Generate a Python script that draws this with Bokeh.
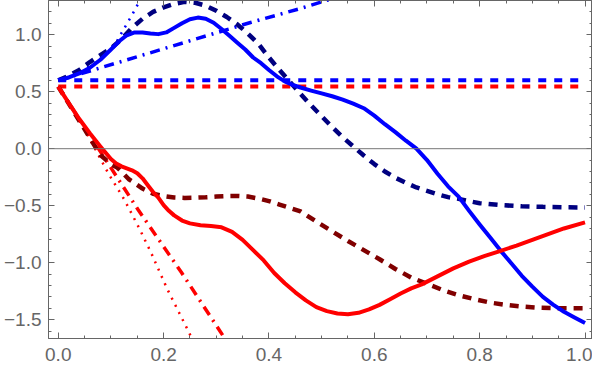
from bokeh.plotting import figure
from bokeh.models import Range1d, LinearAxis, SingleIntervalTicker, Span, CustomJSTickFormatter
from bokeh.embed import file_html
from bokeh.resources import INLINE

# ---- data ----
blue_x = [0, 0.02, 0.04, 0.06, 0.08, 0.10, 0.115, 0.13, 0.145, 0.16, 0.175, 0.19, 0.205, 0.22,
          0.235, 0.25, 0.265, 0.28, 0.295, 0.31, 0.325, 0.34, 0.355, 0.37, 0.385, 0.40, 0.415,
          0.43, 0.445, 0.46, 0.48, 0.50, 0.52, 0.54, 0.56, 0.58, 0.60, 0.62, 0.64, 0.66, 0.68,
          0.70, 0.72, 0.74, 0.76, 0.78, 0.80, 0.82, 0.84, 0.86, 0.88, 0.90, 0.92, 0.94, 0.96,
          0.98, 1.0]
blue_y = [0.60, 0.625, 0.66, 0.71, 0.78, 0.87, 0.94, 0.995, 1.02, 1.02, 1.01, 1.005, 1.02, 1.06,
          1.10, 1.135, 1.15, 1.14, 1.105, 1.05, 0.99, 0.93, 0.87, 0.80, 0.75, 0.69, 0.635,
          0.59, 0.56, 0.537, 0.51, 0.485, 0.46, 0.43, 0.395, 0.355, 0.29, 0.215, 0.145, 0.07, 0.0,
          -0.10, -0.22, -0.33, -0.42, -0.545, -0.665, -0.78, -0.896, -1.005, -1.115, -1.21, -1.30,
          -1.37, -1.43, -1.48, -1.53]

navy_x = [0, 0.02, 0.04, 0.06, 0.08, 0.10, 0.12, 0.14, 0.16, 0.18, 0.20, 0.22, 0.24, 0.26, 0.28,
          0.30, 0.32, 0.34, 0.36, 0.38, 0.40, 0.42, 0.44, 0.46, 0.48, 0.50, 0.52, 0.54, 0.56,
          0.58, 0.60, 0.62, 0.64, 0.66, 0.68, 0.70, 0.72, 0.74, 0.76, 0.78, 0.80, 0.84, 0.88,
          0.92, 0.96, 1.0]
navy_y = [0.60, 0.64, 0.69, 0.76, 0.82, 0.88, 0.96, 1.06, 1.14, 1.20, 1.24, 1.27, 1.288, 1.28,
          1.255, 1.21, 1.155, 1.09, 1.01, 0.92, 0.80, 0.69, 0.585, 0.48, 0.38, 0.285, 0.19, 0.10,
          0.02, -0.06, -0.135, -0.20, -0.255, -0.30, -0.34, -0.37, -0.40, -0.425, -0.44, -0.46,
          -0.478, -0.495, -0.505, -0.51, -0.514, -0.516]

red_x = [0, 0.02, 0.04, 0.06, 0.08, 0.09, 0.10, 0.11, 0.12, 0.13, 0.14, 0.15, 0.16, 0.17, 0.18,
         0.19, 0.20, 0.21, 0.22, 0.235, 0.25, 0.27, 0.29, 0.31, 0.33, 0.35, 0.37, 0.39, 0.41,
         0.43, 0.45, 0.47, 0.49, 0.51, 0.53, 0.55, 0.57, 0.59, 0.61, 0.63, 0.65, 0.67, 0.69,
         0.72, 0.75, 0.78, 0.81, 0.84, 0.87, 0.90, 0.93, 0.96, 1.0]
red_y = [0.545, 0.40, 0.26, 0.135, 0.02, -0.035, -0.09, -0.13, -0.155, -0.172, -0.19, -0.215,
         -0.26, -0.32, -0.38, -0.43, -0.495, -0.545, -0.585, -0.63, -0.655, -0.672, -0.678,
         -0.69, -0.73, -0.80, -0.89, -0.98, -1.09, -1.18, -1.26, -1.33, -1.39, -1.425, -1.445,
         -1.452, -1.44, -1.41, -1.37, -1.32, -1.27, -1.225, -1.19, -1.12, -1.05, -0.99, -0.94,
         -0.896, -0.85, -0.80, -0.75, -0.70, -0.647]

maroon_x = [0, 0.02, 0.04, 0.06, 0.08, 0.10, 0.112, 0.12, 0.134, 0.14, 0.16, 0.18, 0.20, 0.22,
            0.24, 0.26, 0.28, 0.30, 0.32, 0.34, 0.36, 0.38, 0.40, 0.42, 0.44, 0.46, 0.49, 0.52,
            0.55, 0.58, 0.61, 0.64, 0.67, 0.70, 0.73, 0.76, 0.79, 0.82, 0.85, 0.88, 0.91, 0.95,
            1.0]
maroon_y = [0.545, 0.395, 0.245, 0.095, -0.055, -0.135, -0.165, -0.20, -0.268, -0.285, -0.35,
            -0.395, -0.415, -0.428, -0.432, -0.43, -0.426, -0.42, -0.416, -0.415, -0.42, -0.437,
            -0.46, -0.49, -0.52, -0.55, -0.64, -0.725, -0.81, -0.89, -0.97, -1.055, -1.13,
            -1.185, -1.24, -1.285, -1.32, -1.35, -1.37, -1.385, -1.395, -1.40, -1.40]

blue_dot_x = [0, 0.04, 0.08, 0.11, 0.122, 0.141, 0.155, 0.165]
blue_dot_y = [0.60, 0.665, 0.785, 0.93, 1.03, 1.18, 1.30, 1.40]

blue_dd_x = [0, 0.052, 0.365, 0.46, 0.6]
blue_dd_y = [0.60, 0.67, 1.107, 1.23, 1.43]

red_dot_x = [0, 0.05, 0.096, 0.125, 0.153, 0.176, 0.207, 0.242, 0.27]
red_dot_y = [0.545, 0.17, -0.224, -0.443, -0.691, -0.91, -1.232, -1.554, -1.82]

red_dd_x = [0, 0.151, 0.234, 0.313, 0.33]
red_dd_y = [0.545, -0.531, -1.086, -1.642, -1.76]

hx = [0, 1]
blue_h = [0.60, 0.60]
red_h = [0.545, 0.545]

x_tick_vals = [0.0, 0.2, 0.4, 0.6, 0.8, 1.0]
x_tick_labels = ["0.0", "0.2", "0.4", "0.6", "0.8", "1.0"]
y_tick_vals = [-1.5, -1.0, -0.5, 0.0, 0.5, 1.0]
y_tick_labels = ["\u22121.5", "\u22121.0", "\u22120.5", "0.0", "0.5", "1.0"]

X_MIN, X_MAX = -0.0185, 1.0142
Y_MIN, Y_MAX = -1.665, 1.30

BLUE = "#0000ff"
RED = "#ff0000"
NAVY = "#000080"
MAROON = "#800000"
GRAY = "#666666"
FONT = "Liberation Sans"

p = figure(width=592, height=363, output_backend="svg", toolbar_location=None,
           x_range=Range1d(X_MIN, X_MAX), y_range=Range1d(Y_MIN, Y_MAX),
           min_border_left=0, min_border_right=0, min_border_top=0, min_border_bottom=0)
p.xgrid.visible = False
p.ygrid.visible = False
p.outline_line_color = GRAY
p.background_fill_color = "white"

p.add_layout(Span(location=0, dimension="width", line_color="#777777", line_width=1))

# horizontal dashed levels
p.line(hx, blue_h, line_color=BLUE, line_width=4, line_dash="8 8")
p.line(hx, red_h, line_color=RED, line_width=4, line_dash="8 8")

# dotted and dash-dot approximations
p.line(blue_dot_x, blue_dot_y, line_color=BLUE, line_width=2.5, line_dash="2 6")
p.line(red_dot_x, red_dot_y, line_color=RED, line_width=2.5, line_dash="2 6")
p.line(blue_dd_x, blue_dd_y, line_color=BLUE, line_width=3.5, line_dash="10 6 2 6")
p.line(red_dd_x, red_dd_y, line_color=RED, line_width=3.5, line_dash="10 6 2 6")

# dashed curves
p.line(navy_x, navy_y, line_color=NAVY, line_width=4.5, line_dash="9 7")
p.line(maroon_x, maroon_y, line_color=MAROON, line_width=4.5, line_dash="9 7")

# solid curves
p.line(blue_x, blue_y, line_color=BLUE, line_width=4, line_join="round")
p.line(red_x, red_y, line_color=RED, line_width=4, line_join="round")

def style(ax, labels=True):
    ax.axis_line_color = GRAY
    ax.axis_line_width = 1
    ax.major_tick_line_color = GRAY
    ax.minor_tick_line_color = GRAY
    ax.major_tick_in = 6
    ax.major_tick_out = 0
    ax.minor_tick_in = 3
    ax.minor_tick_out = 0
    ax.major_label_text_color = GRAY
    ax.major_label_text_font = FONT
    ax.major_label_text_font_size = "19px"
    if not labels:
        ax.formatter = CustomJSTickFormatter(code="return ''")
        ax.major_label_standoff = 0
        ax.major_label_text_font_size = "1px"

p.xaxis.ticker = SingleIntervalTicker(interval=0.2, num_minor_ticks=4)
p.yaxis.ticker = SingleIntervalTicker(interval=0.5, num_minor_ticks=5)
p.xaxis.major_label_overrides = dict(zip(x_tick_vals, x_tick_labels))
p.yaxis.major_label_overrides = dict(zip(y_tick_vals, y_tick_labels))
style(p.xaxis[0])
style(p.yaxis[0])
p.xaxis[0].major_label_standoff = 9
p.yaxis[0].major_label_standoff = 7

top = LinearAxis(ticker=SingleIntervalTicker(interval=0.2, num_minor_ticks=4), fixed_location=Y_MAX)
right = LinearAxis(ticker=SingleIntervalTicker(interval=0.5, num_minor_ticks=5), fixed_location=X_MAX)
style(top, labels=False)
style(right, labels=False)
p.add_layout(top, "above")
p.add_layout(right, "right")

open("out.html", "w").write(file_html(p, INLINE))
